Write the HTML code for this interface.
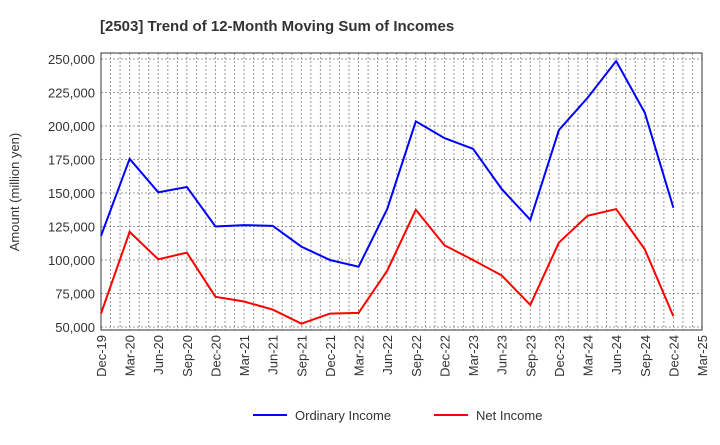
<!DOCTYPE html>
<html><head><meta charset="utf-8"><style>
body{margin:0;background:#fff;font-family:"Liberation Sans",sans-serif}
</style></head><body>
<svg id="c" width="720" height="440" xmlns="http://www.w3.org/2000/svg">
<text x="100" y="31" font-size="15" font-weight="bold" fill="#333">[2503]  Trend of 12-Month Moving Sum of Incomes</text>
<g id="grid"></g><g id="axes"></g><g id="series"></g>
<text transform="translate(19,192) rotate(-90)" text-anchor="middle" font-size="13" fill="#333">Amount (million yen)</text>
<g>
<line x1="253" y1="415" x2="287" y2="415" stroke="#0000ff" stroke-width="2"/>
<text x="295" y="420" font-size="13" fill="#333">Ordinary Income</text>
<line x1="434" y1="415" x2="468" y2="415" stroke="#ff0000" stroke-width="2"/>
<text x="476" y="420" font-size="13" fill="#333">Net Income</text>
</g>
</svg>
<script>
const categories=["Dec-19","Mar-20","Jun-20","Sep-20","Dec-20","Mar-21","Jun-21","Sep-21","Dec-21","Mar-22","Jun-22","Sep-22","Dec-22","Mar-23","Jun-23","Sep-23","Dec-23","Mar-24","Jun-24","Sep-24","Dec-24","Mar-25"];
const ordinaryIncome=[118000,175500,150500,154500,125000,126000,125500,110000,100000,95000,138000,203500,191000,183000,153000,130000,197000,221000,248500,210000,139000];
const netIncome=[60000,121000,100500,105500,72500,69000,63000,52500,60000,60500,92000,137500,111000,100000,88500,66500,113000,133000,138000,108000,58000];
const yTicks=[50000,75000,100000,125000,150000,175000,200000,225000,250000];
const L=101,R=702,T=53,B=330;
const xs=i=>L+i*(R-L)/21;
const ys=v=>327-(v-50000)/200000*268;
const NS="http://www.w3.org/2000/svg";
function mk(p,t,a){const e=document.createElementNS(NS,t);for(const k in a)e.setAttribute(k,a[k]);p.appendChild(e);return e;}
const g=document.getElementById('grid'),ax=document.getElementById('axes'),s=document.getElementById('series');
for(let m=1;m<63;m++){const x=L+m*(R-L)/63;const l=mk(g,'line',{x1:x,y1:T,x2:x,y2:B,stroke:'#999','stroke-dasharray':'2,2','stroke-width':1});

}
yTicks.forEach(v=>{const y=ys(v);const l=mk(g,'line',{x1:L,y1:y,x2:R,y2:y,stroke:'#999','stroke-dasharray':'2,2'});


const t=mk(ax,'text',{x:L-6,y:y+5,'text-anchor':'end','font-size':13,fill:'#333'});t.textContent=v.toLocaleString('en-US');

});
const fr=mk(ax,'rect',{x:L,y:T,width:R-L,height:B-T,fill:'none',stroke:'#333','stroke-width':1});


categories.forEach((c,i)=>{const x=xs(i);const t=mk(ax,'text',{transform:`translate(${x+5},${B+5}) rotate(-90)`,'text-anchor':'end','font-size':13,fill:'#333'});t.textContent=c;

});
function line(d,col,name){const p=mk(s,'polyline',{points:d.map((v,i)=>xs(i)+','+ys(v)).join(' '),fill:'none',stroke:col,'stroke-width':2});

}
line(ordinaryIncome,'#0000ff','ordinary-income-line');
line(netIncome,'#ff0000','net-income-line');
</script>
</body></html>
